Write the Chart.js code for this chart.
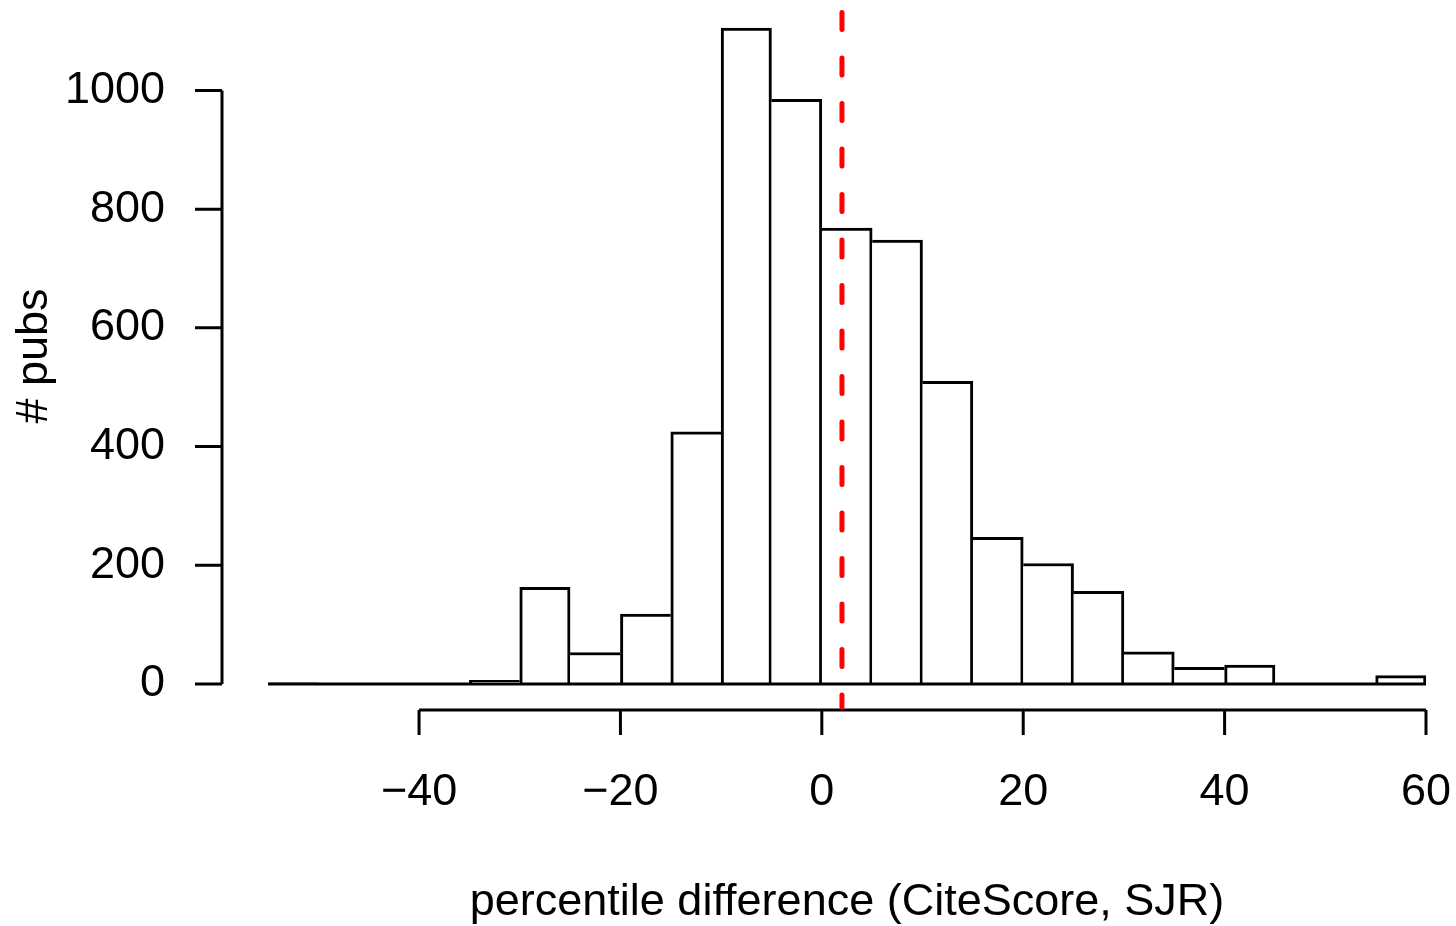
<!DOCTYPE html>
<html>
<head>
<meta charset="utf-8">
<title>percentile difference histogram</title>
<script src="https://cdn.jsdelivr.net/npm/chart.js@4.4.1/dist/chart.umd.min.js"></script>
<style>
    body { margin: 0; background: #ffffff; }
    #wrap { width: 1456px; height: 926px; }
</style>
</head>
<body>
<div id="wrap"><canvas id="histChart" width="1456" height="926"></canvas></div>
<script>
        // Histogram data (bins of width 5, from -55 to 60)
        const binCenters = [-52.5, -47.5, -42.5, -37.5, -32.5, -27.5, -22.5, -17.5, -12.5, -7.5, -2.5,
                            2.5, 7.5, 12.5, 17.5, 22.5, 27.5, 32.5, 37.5, 42.5, 47.5, 52.5, 57.5];
        const counts = [2, 0, 1, 1, 6, 163, 53, 118, 425, 1105, 985,
                        768, 748, 510, 247, 203, 156, 54, 28, 32, 0, 0, 14];
        const xTicks = [-40, -20, 0, 20, 40, 60];
        const yTicks = [0, 200, 400, 600, 800, 1000];
        const refLine = 2;

        const xTitle = 'percentile difference (CiteScore, SJR)';
        const yTitle = '# pubs';
        const fontFamily = '"Liberation Sans", Arial, Helvetica, sans-serif';
        const fontSize = 45;
        const lw = 3;

        const ctx = document.getElementById('histChart').getContext('2d');

        // Each shared edge is drawn by the taller of the two bars
        function barBorder(c) {
            const i = c.dataIndex;
            const h = counts[i];
            const prev = i > 0 ? counts[i - 1] : 0;
            const next = i < counts.length - 1 ? counts[i + 1] : 0;
            return { top: lw, left: h > prev ? lw : 0, right: h >= next ? lw : 0, bottom: 0 };
        }

        function fmt(v) {
            return String(v).replace('-', '\u2212');
        }

        // R style axes, baseline and dashed reference line
        const baseAxes = {
            id: 'baseAxes',
            afterDatasetsDraw(chart) {
                const c = chart.ctx;
                const xs = chart.scales.x;
                const ys = chart.scales.y;
                const area = chart.chartArea;
                const bars = chart.getDatasetMeta(0).data;
                const y0 = ys.getPixelForValue(0);

                c.save();
                c.strokeStyle = '#000000';
                c.lineWidth = lw;
                c.lineCap = 'butt';

                // baseline under the bars
                const first = bars[0].getProps(['x', 'width'], true);
                const last = bars[bars.length - 1].getProps(['x', 'width'], true);
                c.beginPath();
                c.moveTo(first.x - first.width / 2, y0);
                c.lineTo(last.x + last.width / 2, y0);
                c.stroke();

                // y axis
                const yAxisX = area.left - 46;
                c.beginPath();
                c.moveTo(yAxisX, ys.getPixelForValue(yTicks[0]));
                c.lineTo(yAxisX, ys.getPixelForValue(yTicks[yTicks.length - 1]));
                yTicks.forEach(t => {
                    const py = ys.getPixelForValue(t);
                    c.moveTo(yAxisX, py);
                    c.lineTo(yAxisX - 27, py);
                });
                c.stroke();

                // x axis
                const xAxisY = y0 + 26;
                c.beginPath();
                c.moveTo(xs.getPixelForValue(xTicks[0]), xAxisY);
                c.lineTo(xs.getPixelForValue(xTicks[xTicks.length - 1]), xAxisY);
                xTicks.forEach(t => {
                    const px = xs.getPixelForValue(t);
                    c.moveTo(px, xAxisY);
                    c.lineTo(px, xAxisY + 25);
                });
                c.stroke();

                // tick labels
                c.fillStyle = '#000000';
                c.font = fontSize + 'px ' + fontFamily;
                c.textAlign = 'right';
                c.textBaseline = 'middle';
                yTicks.forEach(t => {
                    c.fillText(fmt(t), yAxisX - 57, ys.getPixelForValue(t));
                });
                c.textAlign = 'center';
                xTicks.forEach(t => {
                    c.fillText(fmt(t), xs.getPixelForValue(t), xAxisY + 83);
                });

                // axis titles
                c.fillText(xTitle, (area.left + area.right) / 2, xAxisY + 193);
                c.save();
                c.translate(35, (area.top + xAxisY) / 2);
                c.rotate(-Math.PI / 2);
                c.fillText(yTitle, 0, 0);
                c.restore();

                // red dashed reference line
                const rx = xs.getPixelForValue(refLine);
                c.strokeStyle = '#ff0000';
                c.lineWidth = 5;
                c.lineCap = 'round';
                c.setLineDash([17, 28.5]);
                c.lineDashOffset = 35;
                c.beginPath();
                c.moveTo(rx, area.top);
                c.lineTo(rx, xAxisY - 3);
                c.stroke();
                c.restore();
            }
        };

        const histChart = new Chart(ctx, {
            type: 'bar',
            data: {
                datasets: [{
                    label: yTitle,
                    data: binCenters.map((x, i) => ({ x: x, y: counts[i] })),
                    backgroundColor: '#ffffff',
                    borderColor: '#000000',
                    borderWidth: barBorder,
                    barPercentage: 1,
                    categoryPercentage: 1
                }]
            },
            options: {
                responsive: false,
                animation: false,
                devicePixelRatio: 1,
                layout: {
                    padding: { left: 268, right: 30, top: 2, bottom: 242 }
                },
                plugins: {
                    legend: { display: false },
                    tooltip: { enabled: false }
                },
                scales: {
                    x: {
                        type: 'linear',
                        display: false,
                        offset: false,
                        min: -55,
                        max: 60,
                        ticks: { stepSize: 20 }
                    },
                    y: {
                        display: false,
                        min: 0,
                        max: 1149
                    }
                }
            },
            plugins: [baseAxes]
        });
</script>
</body>
</html>
